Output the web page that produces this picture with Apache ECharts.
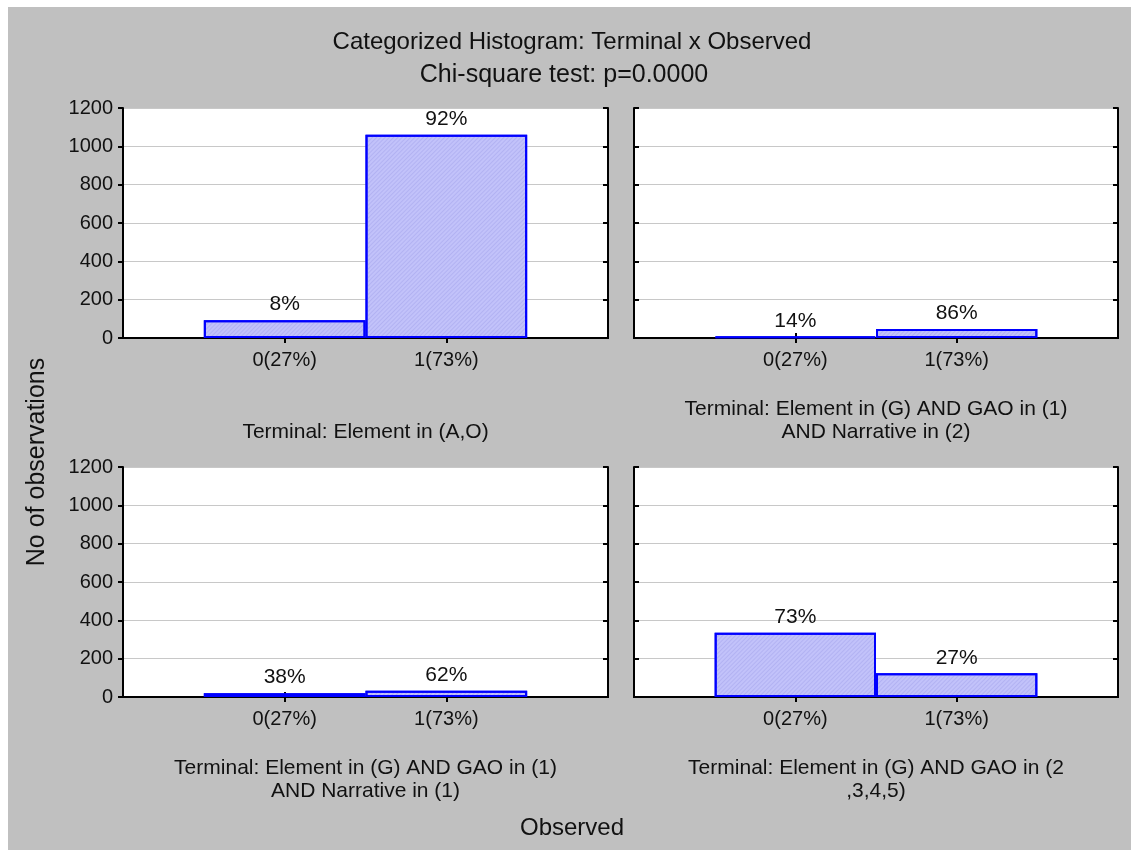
<!DOCTYPE html>
<html>
<head>
<meta charset="utf-8">
<script src="https://cdn.jsdelivr.net/npm/echarts@6/dist/echarts.min.js"></script>
<style>
html, body { margin: 0; padding: 0; background: #fff; }
.back { position: absolute; left: 8px; top: 7px; width: 1123px; height: 843px; background: #c0c0c0; }
#chart { position: absolute; left: 0; top: 0; width: 1131px; height: 850px; }
</style>
</head>
<body>
<div class="back"></div>
<div id="chart"></div>
<script>
const categories = ['0(27%)', '1(73%)'];

const counts1 = [93, 1061];
const counts2 = [8, 47];
const counts3 = [20, 32];
const counts4 = [335, 124];

const pct1 = ['8%', '92%'];
const pct2 = ['14%', '86%'];
const pct3 = ['38%', '62%'];
const pct4 = ['73%', '27%'];

const captions = [
    ['Terminal: Element in (A,O)'],
    ['Terminal: Element in (G) AND GAO in (1)', 'AND Narrative in (2)'],
    ['Terminal: Element in (G) AND GAO in (1)', 'AND Narrative in (1)'],
    ['Terminal: Element in (G) AND GAO in (2', ',3,4,5)']
];

const font = 'Liberation Sans, Arial, sans-serif';
const textColor = '#111';

// pad so the two bars sit at 1/3 and 2/3 of the axis
const padCats = ['', ...categories, ''];

const panels = [
    { counts: counts1, pct: pct1, left: 123, top: 108, width: 485, labels: true },
    { counts: counts2, pct: pct2, left: 634, top: 108, width: 484, labels: false },
    { counts: counts3, pct: pct3, left: 123, top: 467, width: 485, labels: true },
    { counts: counts4, pct: pct4, left: 634, top: 467, width: 484, labels: false }
];
const panelHeight = 230;

const grid = [];
const xAxis = [];
const yAxis = [];
const series = [];
const graphic = [];

const blackLine = { show: true, lineStyle: { color: '#000', width: 2 } };
const midTicks = (idx) => idx === 1 || idx === 2;

panels.forEach((p, i) => {
    grid.push({
        left: p.left, top: p.top, width: p.width, height: panelHeight,
        show: true, backgroundColor: '#fff', borderWidth: 0
    });
    // bottom axis
    xAxis.push({
        type: 'category', gridIndex: i, boundaryGap: false, data: padCats,
        axisLine: blackLine,
        axisTick: { show: true, inside: true, length: 5, interval: midTicks, lineStyle: { color: '#000', width: 2 } },
        axisLabel: { fontSize: 20, fontFamily: font, color: textColor, margin: 12, interval: 0 },
        splitLine: { show: false }
    });
    // top frame
    xAxis.push({
        type: 'category', gridIndex: i, position: 'top', boundaryGap: false, data: padCats,
        axisLine: blackLine,
        axisTick: { show: true, inside: true, length: 5, interval: midTicks, lineStyle: { color: '#000', width: 2 } },
        axisLabel: { show: false },
        splitLine: { show: false }
    });
    // left axis
    yAxis.push({
        type: 'value', gridIndex: i, min: 0, max: 1200, interval: 200,
        axisLine: blackLine,
        axisTick: { show: true, inside: !p.labels, length: 5, lineStyle: { color: '#000', width: 2 } },
        axisLabel: { show: p.labels, fontSize: 20, fontFamily: font, color: textColor, margin: 10,
                     formatter: (v) => String(v) },
        splitLine: { show: true, lineStyle: { color: '#c8c8c8', width: 1 } }
    });
    // right frame
    yAxis.push({
        type: 'value', gridIndex: i, position: 'right', min: 0, max: 1200, interval: 200,
        axisLine: blackLine,
        axisTick: { show: true, inside: true, length: 5, lineStyle: { color: '#000', width: 2 } },
        axisLabel: { show: false },
        splitLine: { show: false }
    });
    series.push({
        type: 'bar',
        xAxisIndex: i * 2,
        yAxisIndex: i * 2,
        barWidth: '100%',
        data: [null, ...p.counts, null],
        itemStyle: {
            color: '#c2c2fa',
            borderColor: '#0000ff',
            borderWidth: 2,
            decal: {
                symbol: 'rect', symbolSize: 1,
                dashArrayX: [1, 0], dashArrayY: [1, 2],
                rotation: -Math.PI / 4,
                color: 'rgba(130,130,220,0.25)'
            }
        },
        label: {
            show: true, position: 'top', distance: 5,
            fontSize: 21, fontFamily: font, color: textColor,
            formatter: (d) => p.pct[d.dataIndex - 1]
        },
        silent: true,
        animation: false
    });

    const cx = p.left + p.width / 2;
    const lines = captions[i];
    const firstY = p.top + panelHeight + (lines.length === 1 ? 94 : 71);
    lines.forEach((t, k) => {
        graphic.push({
            type: 'text', x: cx, y: firstY + k * 23,
            style: { text: t, font: '21px ' + font, fill: textColor, align: 'center', verticalAlign: 'middle' }
        });
    });
});

graphic.push(
    { type: 'text', x: 572, y: 42,
      style: { text: 'Categorized Histogram: Terminal x Observed', font: '24px ' + font, fill: textColor, align: 'center', verticalAlign: 'middle' } },
    { type: 'text', x: 564, y: 75,
      style: { text: 'Chi-square test: p=0.0000', font: '25px ' + font, fill: textColor, align: 'center', verticalAlign: 'middle' } },
    { type: 'text', x: 572, y: 828,
      style: { text: 'Observed', font: '24px ' + font, fill: textColor, align: 'center', verticalAlign: 'middle' } },
    { type: 'text', x: 37, y: 462, rotation: Math.PI / 2,
      style: { text: 'No of observations', font: '25px ' + font, fill: textColor, align: 'center', verticalAlign: 'middle' } }
);

const chart = echarts.init(document.getElementById('chart'));
chart.setOption({
    backgroundColor: 'transparent',
    animation: false,
    grid: grid,
    xAxis: xAxis,
    yAxis: yAxis,
    series: series,
    graphic: graphic
});
</script>
</body>
</html>
